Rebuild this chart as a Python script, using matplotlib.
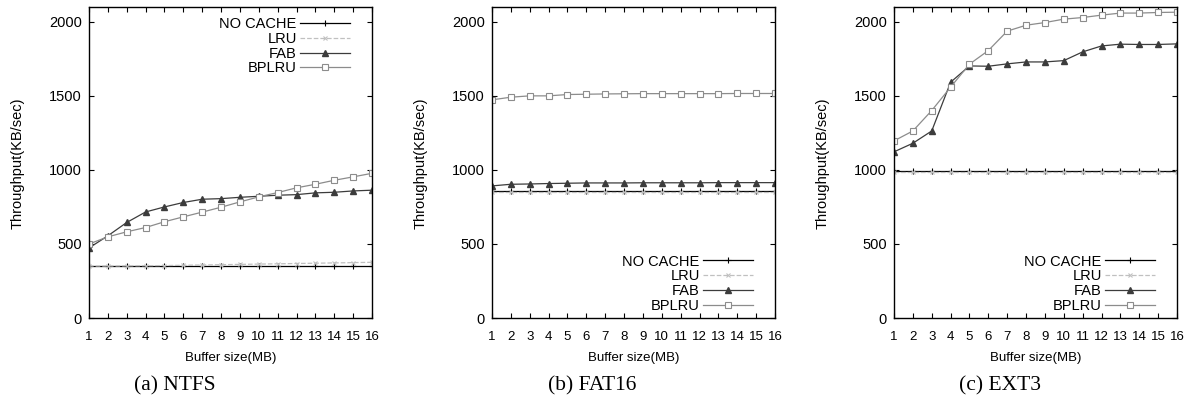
import numpy as np
import matplotlib
matplotlib.use('Agg')
import matplotlib.pyplot as plt

plt.rcParams['font.family'] = ['Liberation Sans', 'DejaVu Sans']

buffer_mb = list(range(1, 17))
series = ['NO CACHE', 'LRU', 'FAB', 'BPLRU']

# (a) NTFS
ntfs_nocache = [351, 351, 351, 351, 351, 351, 351, 351, 351, 351, 351, 351, 351, 351, 351, 351]
ntfs_lru = [351, 351, 352, 353, 354, 356, 358, 360, 362, 364, 366, 368, 370, 372, 374, 376]
ntfs_fab = [473, 555, 645, 716, 750, 780, 802, 806, 815, 822, 829, 833, 845, 849, 858, 863]
ntfs_bplru = [500, 548, 582, 611, 650, 683, 715, 748, 784, 818, 847, 879, 903, 930, 953, 977]

# (b) FAT16
fat_nocache = [856, 856, 856, 856, 856, 856, 856, 856, 856, 856, 856, 856, 856, 856, 856, 856]
fat_lru = [854, 854, 854, 854, 854, 854, 854, 854, 854, 854, 854, 854, 854, 854, 854, 854]
fat_fab = [892, 903, 905, 908, 910, 912, 912, 912, 913, 913, 913, 913, 914, 914, 914, 914]
fat_bplru = [1473, 1491, 1500, 1500, 1509, 1511, 1513, 1514, 1515, 1515, 1515, 1515, 1515, 1516, 1516, 1516]

# (c) EXT3
ext_nocache = [990, 990, 990, 990, 990, 990, 990, 990, 990, 990, 990, 990, 990, 990, 990, 990]
ext_lru = [988, 988, 988, 988, 988, 988, 988, 988, 988, 988, 988, 988, 988, 988, 988, 988]
ext_fab = [1122, 1180, 1263, 1592, 1702, 1700, 1716, 1729, 1729, 1738, 1797, 1837, 1849, 1847, 1847, 1851]
ext_bplru = [1196, 1263, 1401, 1559, 1714, 1806, 1937, 1977, 1995, 2018, 2029, 2045, 2059, 2059, 2063, 2065]

panels = [
    ('(a) NTFS', [ntfs_nocache, ntfs_lru, ntfs_fab, ntfs_bplru], 'upper right'),
    ('(b) FAT16', [fat_nocache, fat_lru, fat_fab, fat_bplru], 'lower right'),
    ('(c) EXT3', [ext_nocache, ext_lru, ext_fab, ext_bplru], 'lower right'),
]

styles = [
    dict(color='black', ls='-', marker='+', ms=4, mew=0.8),
    dict(color='#c0c0c0', ls='--', marker='x', ms=3.5, mew=0.8),
    dict(color='#3c3c3c', ls='-', marker='^', ms=4, mfc='#3c3c3c'),
    dict(color='#8c8c8c', ls='-', marker='s', ms=4, mfc='white', mew=0.8),
]

W, H = 1191, 413
fig = plt.figure(figsize=(W / 100, H / 100), dpi=100)

lefts = [89, 492, 894]
ylab_x = [18, 421, 823]
cap_x = [175, 592, 1000]
ax_w = 283
top, bottom = 7, 318

for i, (cap, data, loc) in enumerate(panels):
    ax = fig.add_axes([lefts[i] / W, 1 - bottom / H, ax_w / W, (bottom - top) / H])
    for name, vals, st in zip(series, data, styles):
        ax.plot(buffer_mb, vals, lw=0.9, label=name, **st)
    ax.set_xlim(1, 16)
    ax.set_ylim(0, 2100)
    ax.set_xticks(buffer_mb)
    ax.set_yticks([0, 500, 1000, 1500, 2000])
    ax.tick_params(direction='in', top=True, right=True, length=3.5, width=0.8)
    ax.tick_params(axis='y', labelsize=10.5, pad=5)
    ax.tick_params(axis='x', labelsize=9.5, pad=9)
    for sp in ax.spines.values():
        sp.set_linewidth(1.0)
    ax.set_xlabel('Buffer size(MB)', fontsize=9.5, labelpad=7)
    fig.text(ylab_x[i] / W, 1 - 163 / H, 'Throughput(KB/sec)', rotation=90,
             ha='center', va='center', fontsize=10.5)
    if loc == 'upper right':
        anchor = (0.958, 1.0)
    else:
        anchor = (0.958, -0.016)
    ax.legend(loc=loc, bbox_to_anchor=anchor, frameon=False, markerfirst=False,
              fontsize=10.5, handlelength=3.4, labelspacing=0.05,
              borderaxespad=0.3, handletextpad=0.25)
    fig.text(cap_x[i] / W, 1 - 386 / H, cap, ha='center', va='center',
             fontsize=15.5, family='Liberation Serif')

fig.savefig('out.png', dpi=100)
